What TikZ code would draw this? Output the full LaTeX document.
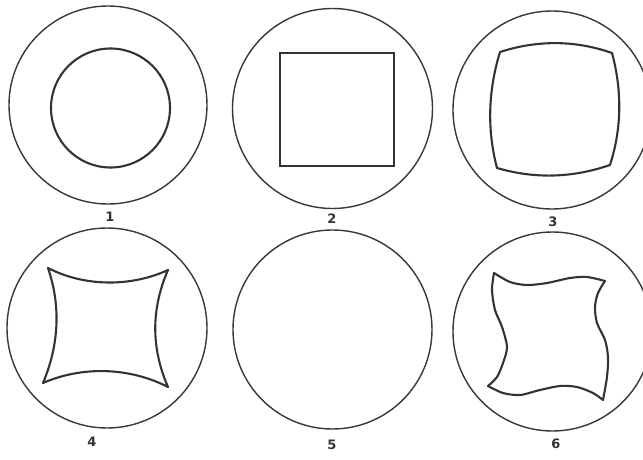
\documentclass[tikz,border=0pt]{standalone}
\usepackage{fontspec}
\setmainfont{DejaVu Sans}
\begin{document}
\begin{tikzpicture}[x=1pt,y=-1pt,
  rim/.style={draw=black!78,line width=1.4pt},
  shp/.style={draw=black!80,line width=2.1pt,line join=round,line cap=round},
  lbl/.style={text=black!80,font=\fontsize{13}{13}\selectfont\bfseries,inner sep=0pt}]
\useasboundingbox (0,0) rectangle (643,460);
\fill[white] (0,0) rectangle (643,460);
\clip (0,0) rectangle (643,460);
% 1
\draw[rim] (108,105) circle[radius=99];
\draw[shp] (110.5,108) circle[radius=59.5];
\node[lbl] (l1) at (110,217) {1};
% 2
\draw[rim] (332.5,108.5) circle[radius=100];
\draw[shp,line cap=butt,line join=miter] (280,53) rectangle (394,166);
\node[lbl] (l2) at (332,219) {2};
% 3
\draw[rim] (552,110) circle[radius=99];
\draw[shp] (500,52) .. controls (537,40) and (575,40) .. (612,53)
  .. controls (622,90) and (622,128) .. (610,165)
  .. controls (572,178) and (535,179) .. (497,168)
  .. controls (487,130) and (488,91) .. cycle;
\node[lbl] (l3) at (553,222) {3};
% 4
\draw[rim] (107,328) circle[radius=100];
\draw[shp] (48,268) .. controls (85,287) and (131,287) .. (168,270)
  .. controls (151,309) and (151,348) .. (168,387)
  .. controls (129,367) and (82,366) .. (43,383)
  .. controls (59,345) and (61,306) .. cycle;
\node[lbl] (l4) at (92,442) {4};
% 5
\draw[rim] (332.5,329.5) circle[radius=99.5];
\node[lbl] (l5) at (332,445) {5};
% 6
\draw[rim] (552.5,331.5) circle[radius=99.5];
\draw[shp] plot[smooth] coordinates {(494,273) (510,282) (527,285) (547,283) (570,278) (587,277) (605,281)};
\draw[shp] plot[smooth] coordinates {(605,281) (598,293) (595,307) (597,323) (605,340) (608,357) (607,377) (603,400)};
\draw[shp] plot[smooth] coordinates {(603,400) (593,393) (577,387) (560,386) (540,390) (520,395) (503,393) (488,386)};
\draw[shp] plot[smooth] coordinates {(488,386) (497,377) (503,363) (507,347) (502,327) (495,310) (492,290) (494,273)};
\node[lbl] (l6) at (556,444) {6};
\end{tikzpicture}
\end{document}
